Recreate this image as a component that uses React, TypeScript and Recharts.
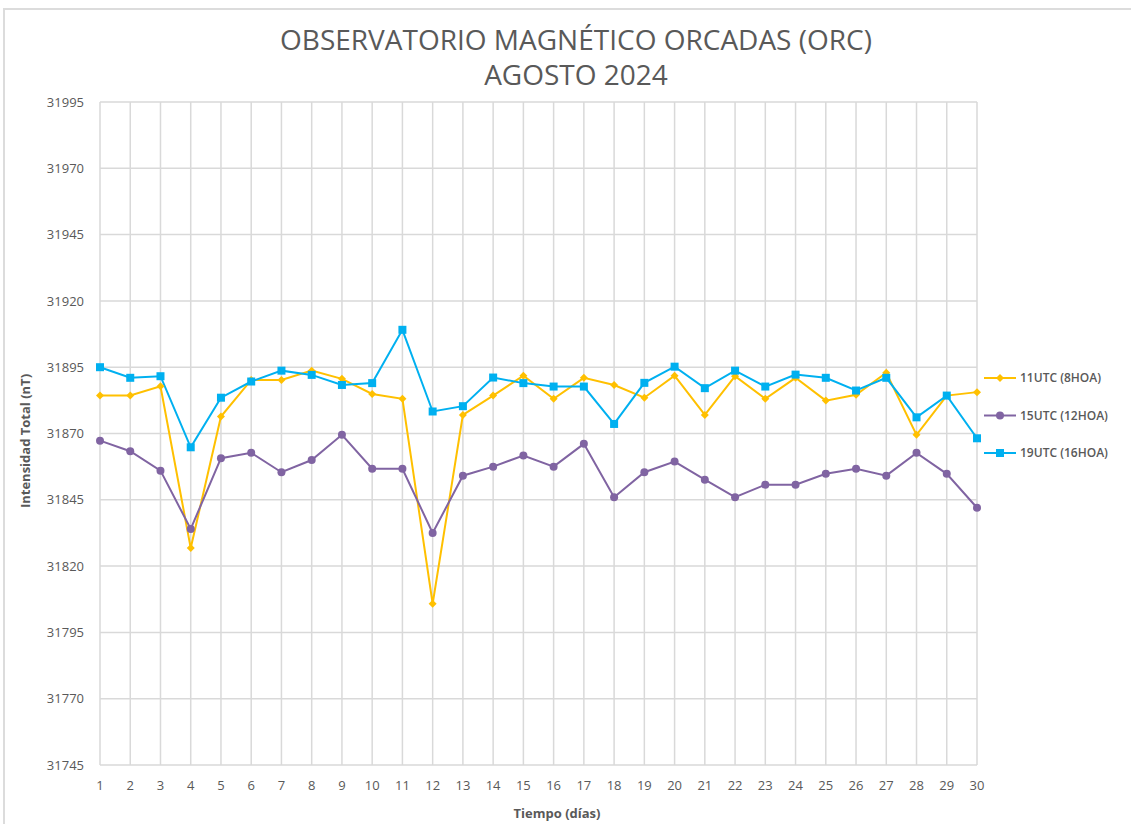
import { LineChart, Line, XAxis, YAxis, CartesianGrid } from "recharts"

const days = ["1", "2", "3", "4", "5", "6", "7", "8", "9", "10", "11", "12", "13", "14", "15", "16", "17", "18", "19", "20", "21", "22", "23", "24", "25", "26", "27", "28", "29", "30"]

const utc11 = [31884.3, 31884.3, 31887.8, 31826.8, 31876.4, 31890.2, 31890.2, 31893.7, 31890.6, 31884.9, 31883.1, 31805.8, 31877.0, 31884.3, 31891.8, 31883.1, 31891.0, 31888.3, 31883.5, 31891.8, 31877.0, 31891.6, 31883.1, 31891.0, 31882.4, 31884.6, 31892.9, 31869.5, 31884.3, 31885.6]
const utc15 = [31867.3, 31863.3, 31856.0, 31834.0, 31860.7, 31862.7, 31855.4, 31860.0, 31869.5, 31856.7, 31856.7, 31832.5, 31854.1, 31857.5, 31861.7, 31857.5, 31866.1, 31846.0, 31855.4, 31859.4, 31852.6, 31846.0, 31850.7, 31850.7, 31854.8, 31856.7, 31854.1, 31862.7, 31854.8, 31842.0]
const utc19 = [31895.0, 31891.0, 31891.6, 31864.8, 31883.5, 31889.6, 31893.7, 31892.1, 31888.3, 31889.0, 31909.1, 31878.3, 31880.3, 31891.1, 31889.0, 31887.7, 31887.7, 31873.6, 31889.1, 31895.2, 31887.1, 31893.7, 31887.7, 31892.2, 31891.0, 31886.2, 31891.0, 31876.1, 31884.3, 31868.2]

const yTicks = [31745, 31770, 31795, 31820, 31845, 31870, 31895, 31920, 31945, 31970, 31995]

const seriesNames = ["11UTC (8HOA)", "15UTC (12HOA)", "19UTC (16HOA)"]
const COLORS = ["#FFC000", "#8064A2", "#00B0F0"]

const FONT = "'Open Sans', 'Liberation Sans', sans-serif"
const TEXT = "#595959"

const data = days.map((d, i) => ({ day: d, a: utc11[i], b: utc15[i], c: utc19[i] }))

// marker shapes, like the excel defaults
function Marker({ kind, cx, cy, color }: { kind: number; cx: number; cy: number; color: string }) {
  if (kind === 0) {
    const s = 4
    return <path d={`M${cx},${cy - s}L${cx + s},${cy}L${cx},${cy + s}L${cx - s},${cy}Z`} fill={color} />
  }
  if (kind === 1) return <circle cx={cx} cy={cy} r={4} fill={color} />
  return <rect x={cx - 4} y={cy - 4} width={8} height={8} fill={color} />
}

const makeDot = (kind: number) => (p: any) => (
  <Marker key={`${kind}-${p.index}`} kind={kind} cx={p.cx} cy={p.cy} color={COLORS[kind]} />
)

// legend drawn on the right side, outside the plot
function LegendBox() {
  return (
    <svg width={146} height={100} style={{ position: "absolute", left: 984, top: 368 }}>
      {seriesNames.map((name, i) => {
        const y = 10 + i * 37.5
        return (
          <g key={name}>
            <line x1={0} x2={32} y1={y} y2={y} stroke={COLORS[i]} strokeWidth={2} />
            <Marker kind={i} cx={16} cy={y} color={COLORS[i]} />
            <text x={36} y={y} dy="0.35em" fontSize={12} fontWeight={600} fill={TEXT} fontFamily={FONT}>
              {name}
            </text>
          </g>
        )
      })}
    </svg>
  )
}

export default function App() {
  return (
    <div style={{ position: "absolute", left: 0, top: 0, width: 1131, height: 824, overflow: "hidden", background: "#fff", fontFamily: FONT }}>
      {/* chart area frame */}
      <div style={{ position: "absolute", left: 3, top: 8, width: 1140, height: 830, borderLeft: "2px solid #dcdcdc", borderTop: "2px solid #dcdcdc" }} />

      <div style={{ position: "absolute", left: 0, top: 22, width: 1152, textAlign: "center", color: TEXT, fontSize: 28, lineHeight: "35px" }}>
        OBSERVATORIO MAGNÉTICO ORCADAS (ORC)
        <br />
        AGOSTO 2024
      </div>

      <div style={{ position: "absolute", left: 25, top: 441, transform: "translate(-50%, -50%) rotate(-90deg)", whiteSpace: "nowrap", color: TEXT, fontSize: 13, fontWeight: 700 }}>
        Intensidad Total (nT)
      </div>
      <div style={{ position: "absolute", left: 557, top: 813, transform: "translate(-50%, -50%)", whiteSpace: "nowrap", color: TEXT, fontSize: 13, fontWeight: 700 }}>
        Tiempo (días)
      </div>

      <div style={{ position: "absolute", left: 0, top: 0 }}>
        <LineChart width={1131} height={824} data={data} margin={{ top: 102, right: 154, bottom: 29, left: 0 }}>
          <CartesianGrid stroke="#d9d9d9" strokeWidth={1.5} />
          <XAxis
            dataKey="day"
            axisLine={false}
            tickLine={false}
            tickMargin={10}
            height={30}
            interval={0}
            tick={{ fill: TEXT, fontSize: 13, fontFamily: FONT }}
          />
          <YAxis
            domain={[31745, 31995]}
            ticks={yTicks}
            axisLine={false}
            tickLine={false}
            tickMargin={10}
            width={100}
            tick={{ fill: TEXT, fontSize: 13, fontFamily: FONT }}
          />
          <Line dataKey="a" name={seriesNames[0]} stroke={COLORS[0]} strokeWidth={2} dot={makeDot(0)} activeDot={false} isAnimationActive={false} />
          <Line dataKey="b" name={seriesNames[1]} stroke={COLORS[1]} strokeWidth={2} dot={makeDot(1)} activeDot={false} isAnimationActive={false} />
          <Line dataKey="c" name={seriesNames[2]} stroke={COLORS[2]} strokeWidth={2} dot={makeDot(2)} activeDot={false} isAnimationActive={false} />
        </LineChart>
      </div>

      <LegendBox />
    </div>
  )
}
